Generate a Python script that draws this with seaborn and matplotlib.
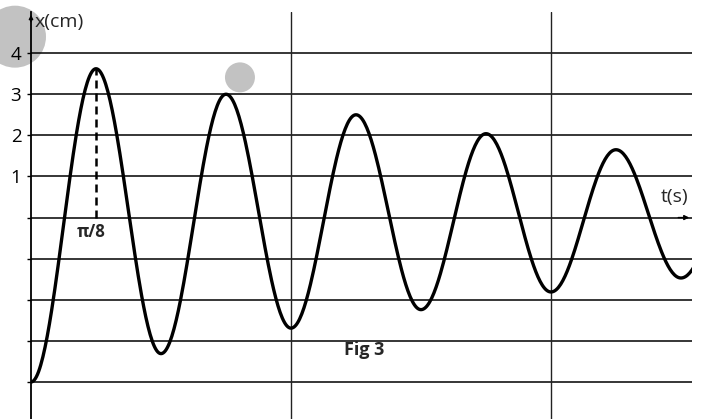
import numpy as np
import pandas as pd
import matplotlib
matplotlib.use("Agg")
import matplotlib.pyplot as plt
import seaborn as sns

# Extremes of the damped oscillation: times in multiples of pi/8 s, displacement in cm
ext_steps = [0, 1, 2, 3, 4, 5, 6, 7, 8, 9, 10, 11]
ext_values = [-4.0, 3.62, -3.31, 3.0, -2.69, 2.5, -2.24, 2.04, -1.81, 1.65, -1.47, 1.35]

y_ticks = [-4, -3, -2, -1, 0, 1, 2, 3, 4]
y_labels = ["", "", "", "", "", "1", "2", "3", "4"]
v_lines = [np.pi / 2, np.pi]
peak_label = "π/8"

sns.set_theme(style="white")
plt.rcParams["font.family"] = ["Open Sans", "DejaVu Sans"]

# smooth half-cosine swing between consecutive extremes
unit = np.pi / 8
t_parts, x_parts = [], []
for i in range(len(ext_steps) - 1):
    s = np.linspace(0, 1, 60, endpoint=False)
    a, b = ext_values[i], ext_values[i + 1]
    t_parts.append((ext_steps[i] + s * (ext_steps[i + 1] - ext_steps[i])) * unit)
    x_parts.append(a + (b - a) * (1 - np.cos(np.pi * s)) / 2)
curve = pd.DataFrame({"t": np.concatenate(t_parts), "x": np.concatenate(x_parts)})

fig = plt.figure(figsize=(7.01, 4.19), dpi=100)
ax = fig.add_axes([31 / 701, 0, 661 / 701, 407 / 419])
x_max = 10.17 * unit
y_min, y_max = -4.9, 5.0
ax.set_xlim(0, x_max)
ax.set_ylim(y_min, y_max)

# faint grey discs of the background emblem
ax.scatter([-0.246 * unit, 3.215 * unit], [4.4, 3.41], s=[1990, 466],
           color="#c2c2c2", linewidths=0, zorder=0.5, clip_on=False)

# horizontal rules at every centimetre
for y in y_ticks:
    ax.axhline(y, color="black", lw=1.1, zorder=1)
for xv in v_lines:
    ax.axvline(xv, color="#222222", lw=1.0, zorder=1)

sns.lineplot(data=curve, x="t", y="x", ax=ax, color="black", lw=2.4,
             sort=False, estimator=None, zorder=3)

# dashed marker from the first maximum down to the time axis
ax.plot([unit, unit], [0, ext_values[1]], color="black", lw=1.8,
        dashes=(3.2, 2.0), zorder=2)
ax.text(0.92 * unit, -0.34, peak_label, ha="center", va="center",
        fontsize=12, fontweight="bold")

for side in ["top", "right", "bottom"]:
    ax.spines[side].set_visible(False)
ax.spines["left"].set_color("black")
ax.spines["left"].set_linewidth(1.3)
ax.set_xticks([])
ax.set_yticks(y_ticks)
ax.set_yticklabels(y_labels)
ax.tick_params(axis="y", length=3, width=1, pad=4, labelsize=13.5, left=True,
               colors="black")
ax.set_xlabel("")
ax.set_ylabel("")

# arrow heads on both axes
ax.annotate("", xy=(0, y_max), xytext=(0, y_max - 0.3),
            arrowprops=dict(arrowstyle="-|>", color="black", lw=1.0,
                            mutation_scale=6), annotation_clip=False)
ax.annotate("", xy=(x_max, 0), xytext=(x_max - 0.1, 0),
            arrowprops=dict(arrowstyle="-|>", color="black", lw=1.0,
                            mutation_scale=7), annotation_clip=False)

ax.text(0.02, y_max - 0.25, "x(cm)", ha="left", va="center", fontsize=14)
ax.text(x_max - 0.02, 0.5, "t(s)", ha="right", va="center", fontsize=14)
ax.text(5.12 * unit, -3.21, "Fig 3", ha="center", va="center",
        fontsize=13, fontweight="bold")

fig.savefig("out.png", dpi=100)
